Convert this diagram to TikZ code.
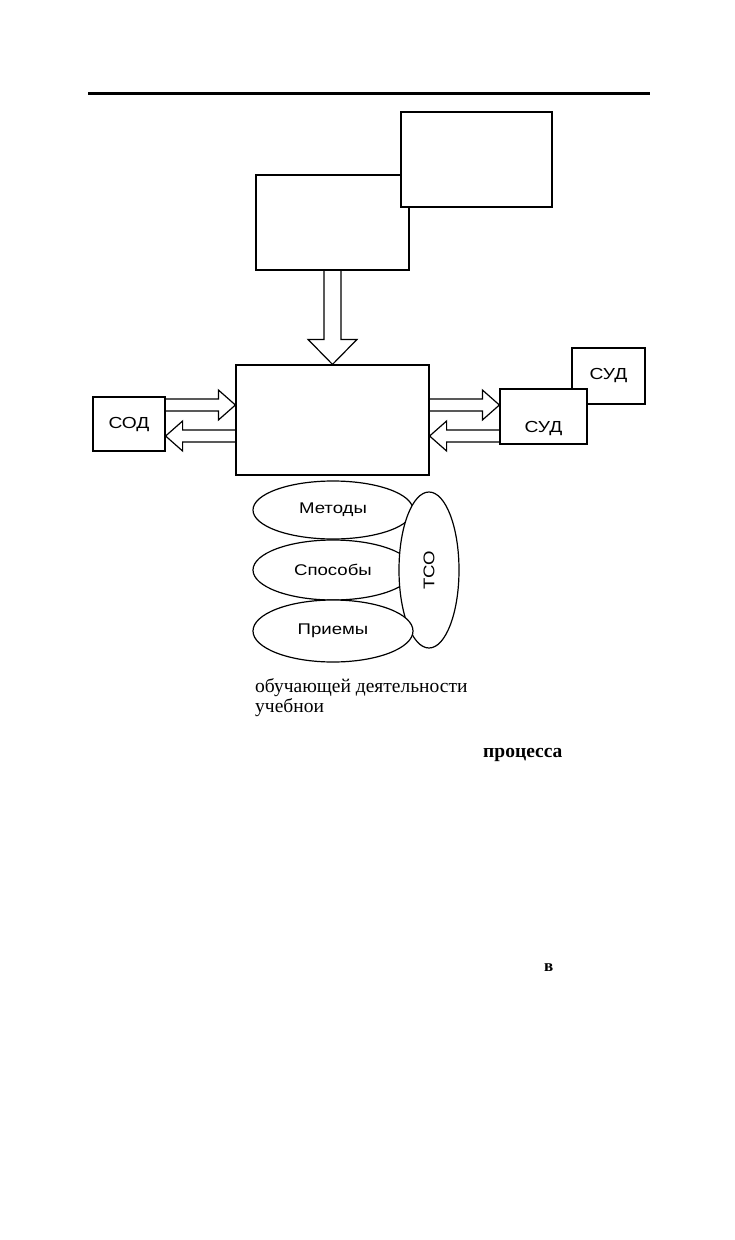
\documentclass[tikz,border=0pt]{standalone}
\usepackage{fontspec}
\setmainfont{Liberation Serif}
\newfontfamily\boxfont[FakeStretch=1.2]{Liberation Sans}
\usetikzlibrary{positioning,shapes.geometric,calc}
\tikzset{
  blk/.style={draw,line width=1.2pt,fill=white,inner sep=0pt,
    font=\boxfont\fontsize{16}{18}\selectfont},
  oval/.style={ellipse,draw,line width=1.2pt,fill=white,inner sep=0pt,
    minimum width=160pt,font=\boxfont\fontsize{15.5}{17}\selectfont},
  hollow/.style={draw,line width=1.2pt,line join=miter},
  rulebar/.style={line width=3pt},
  txt/.style={inner sep=0pt,anchor=base west,font=\fontsize{19.5}{21}\selectfont},
}
% hollow block arrow, horizontal: start, end (same height)
\newcommand{\harrow}[2]{%
  \draw[hollow] let \p1=(#1), \p2=(#2), \n1={sign(\x2-\x1)} in
    (\x1,{\y1+6pt}) -- ({\x2-\n1*17pt},{\y1+6pt}) -- ({\x2-\n1*17pt},{\y1+15pt})
    -- (\x2,\y1) -- ({\x2-\n1*17pt},{\y1-15pt}) -- ({\x2-\n1*17pt},{\y1-6pt}) -- (\x1,{\y1-6pt});}
% hollow block arrow, vertical: start, end (same abscissa)
\newcommand{\varrow}[2]{%
  \draw[hollow] let \p1=(#1), \p2=(#2), \n1={sign(\y2-\y1)} in
    ({\x1-8.5pt},\y1) -- ({\x1-8.5pt},{\y2-\n1*25pt}) -- ({\x1-24.5pt},{\y2-\n1*25pt})
    -- (\x1,\y2) -- ({\x1+24.5pt},{\y2-\n1*25pt}) -- ({\x1+8.5pt},{\y2-\n1*25pt}) -- ({\x1+8.5pt},\y1);}
\begin{document}
\begin{tikzpicture}[x=1pt,y=-1pt]
  \useasboundingbox[fill=white] (0,0) rectangle (734,1240);
  % page rule
  \coordinate (rulel) at (88,93);
  \coordinate (ruler) at (650,93);
  \draw[rulebar] (rulel) -- (ruler);
  % top boxes
  \node[blk,minimum width=153pt,minimum height=95pt] (boxb) at (332.5,222.5) {};
  \node[blk,minimum width=151pt,minimum height=95pt] (boxa) at (476.5,159.5) {};
  % central block and side boxes
  \node[blk,minimum width=193pt,minimum height=110pt] (main) at (332.5,420) {};
  \node[blk,minimum width=72pt,minimum height=54pt] (sod) at (129,424) {СОД};
  \node[blk,minimum width=73pt,minimum height=56pt] (sudb) at (608.5,376) {СУД};
  \node[blk,minimum width=87pt,minimum height=55pt] (sudf) at (543.5,416.5) {\raisebox{-16pt}[0pt][0pt]{СУД}};
  \coordinate (upper) at (0,405);
  \coordinate (lower) at (0,436);
  \varrow{boxb.south}{main.north}
  \harrow{sod.east |- upper}{main.west |- upper}
  \harrow{main.west |- lower}{sod.east |- lower}
  \harrow{main.east |- upper}{sudf.west |- upper}
  \harrow{sudf.west |- lower}{main.east |- lower}
  % means of teaching
  \node[oval,minimum height=58pt] (met) at (333,510) {Методы};
  \node[oval,minimum height=60pt] (spo) at (333,570) {Способы};
  \node[oval,rotate=90,minimum width=156pt,minimum height=60pt] (tso) at (429,570) {ТСО};
  \node[oval,minimum height=62pt] (pri) at (333,631) {Приемы};
  % loose text
  \node[txt] (obuch) at (255,692) {обучающей деятельности};
  \node[txt] (ucheb) at (255,712) {учебнои};
  \node[txt,font=\bfseries\fontsize{19.5}{21}\selectfont] (proc) at (483,757) {процесса};
  \node[txt,font=\bfseries\fontsize{17}{19}\selectfont] (vv) at (544,971) {в};
\end{tikzpicture}
\end{document}
